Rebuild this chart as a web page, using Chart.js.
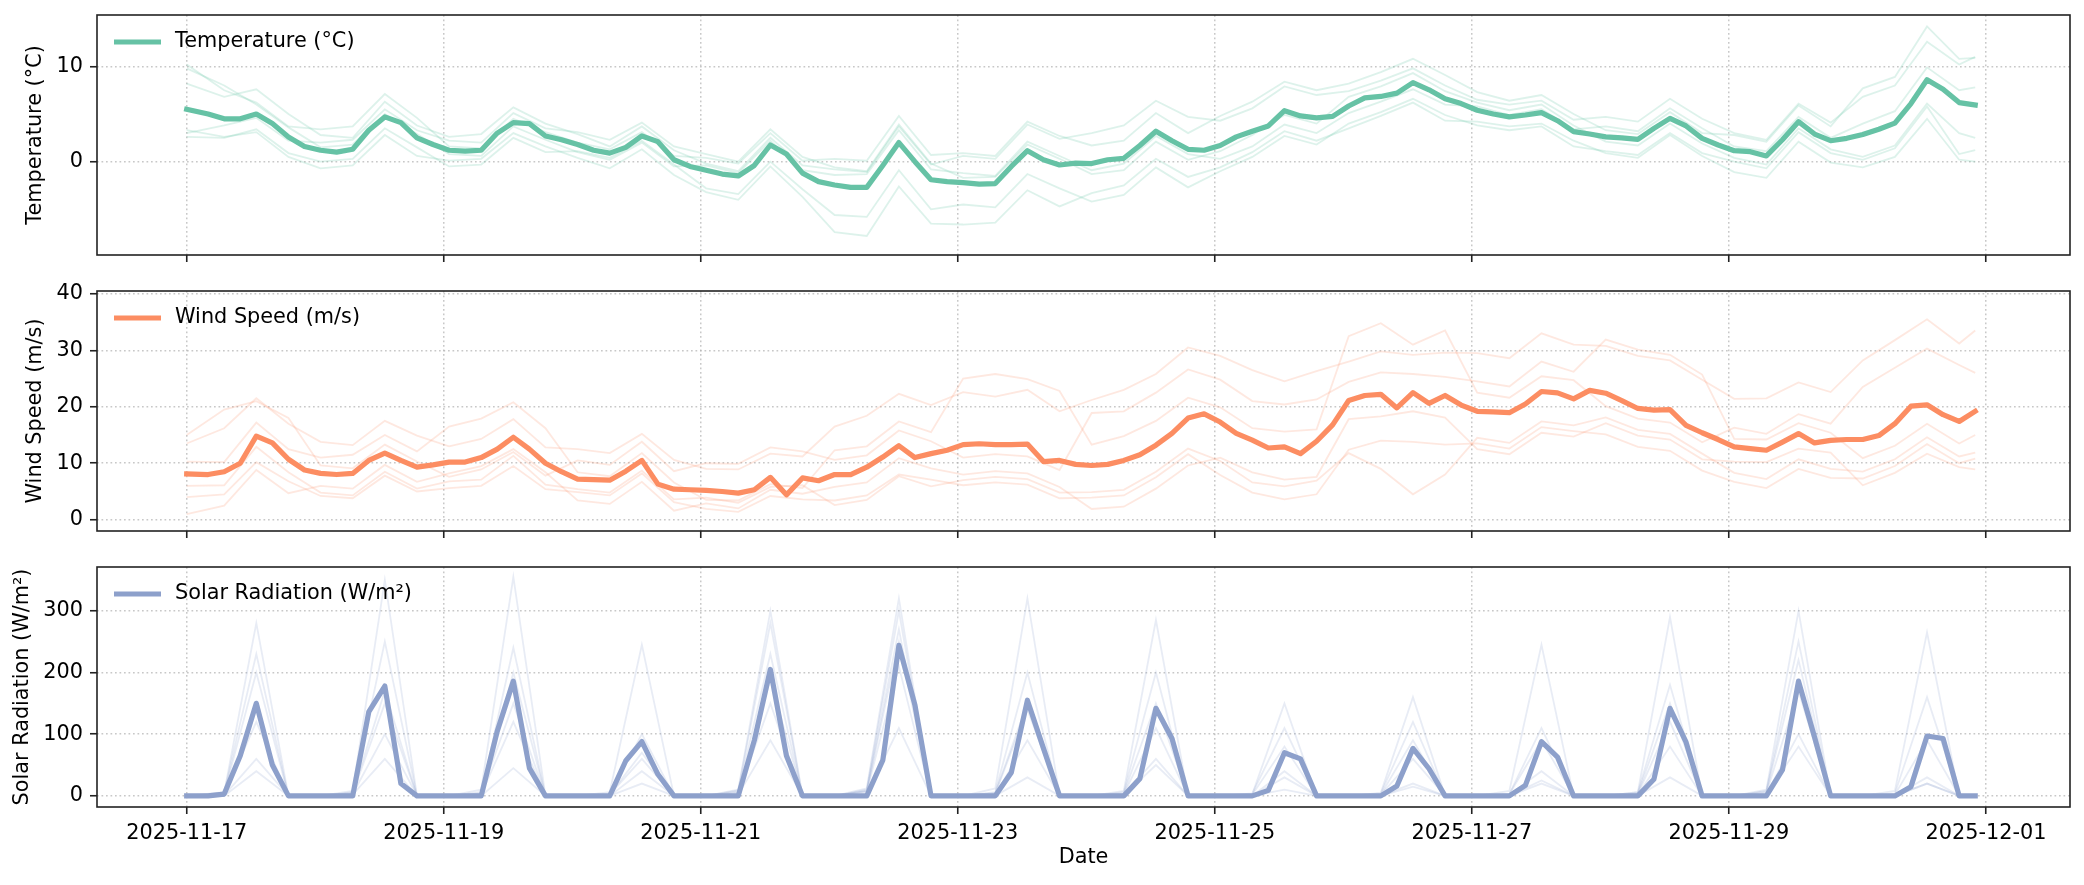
<!DOCTYPE html>
<html>
<head>
<meta charset="utf-8">
<script src="https://cdn.jsdelivr.net/npm/chart.js@4.4.1/dist/chart.umd.min.js"></script>
<style>
  html, body { margin: 0; padding: 0; background: #fff; }
  #wrap { position: relative; width: 2084px; height: 885px; }
  canvas { position: absolute; left: 0; }
</style>
</head>
<body>
<div id="wrap">
  <canvas id="tempChart" width="2084" height="270" style="top:0px"></canvas>
  <canvas id="windChart" width="2084" height="276" style="top:270px"></canvas>
  <canvas id="solarChart" width="2084" height="339" style="top:546px"></canvas>
</div>
<script>
// x values are hours since 2025-11-17 00:00
const tickHours = [0, 48, 96, 144, 192, 240, 288, 336];
const tickLabels = ['2025-11-17', '2025-11-19', '2025-11-21', '2025-11-23',
                    '2025-11-25', '2025-11-27', '2025-11-29', '2025-12-01'];

// ensemble mean, 3-hourly
const meanHours = [0];
for (let h = 4; h <= 334; h += 3) meanHours.push(h);

// individual members, read every 6 hours
const memberHours = [0];
for (let h = 7; h <= 331; h += 6) memberHours.push(h);
memberHours.push(334);

const tempMean = [
  5.5, 5.0, 4.5, 4.5, 5.0, 4.0, 2.6, 1.6,
  1.2, 1.0, 1.3, 3.3, 4.7, 4.1, 2.5, 1.8,
  1.2, 1.1, 1.2, 3.0, 4.1, 4.0, 2.7, 2.3,
  1.8, 1.2, 0.9, 1.5, 2.7, 2.1, 0.2, -0.5,
  -0.9, -1.3, -1.5, -0.4, 1.75, 0.8, -1.2, -2.1,
  -2.45, -2.7, -2.7, -0.4, 2.0, 0.0, -1.9, -2.1,
  -2.2, -2.35, -2.3, -0.5, 1.15, 0.2, -0.35, -0.15,
  -0.2, 0.2, 0.35, 1.7, 3.2, 2.2, 1.3, 1.2,
  1.7, 2.6, 3.2, 3.75, 5.35, 4.8, 4.6, 4.75,
  5.85, 6.7, 6.85, 7.2, 8.3, 7.55, 6.6, 6.1,
  5.4, 5.0, 4.7, 4.9, 5.15, 4.3, 3.15, 2.9,
  2.6, 2.5, 2.35, 3.5, 4.55, 3.75, 2.45, 1.75,
  1.15, 1.05, 0.6, 2.3, 4.2, 2.9, 2.2, 2.45,
  2.85, 3.4, 4.05, 6.1, 8.6, 7.6, 6.2, 5.95
];
const windMean = [
  8.1, 8.0, 8.5, 10.0, 14.8, 13.6, 10.7, 8.8,
  8.2, 8.0, 8.2, 10.5, 11.8, 10.5, 9.3, 9.7,
  10.2, 10.2, 11.0, 12.5, 14.6, 12.5, 10.0, 8.5,
  7.2, 7.1, 7.0, 8.6, 10.5, 6.3, 5.4, 5.3,
  5.2, 5.0, 4.7, 5.3, 7.5, 4.4, 7.4, 6.9,
  8.0, 8.0, 9.3, 11.1, 13.1, 11.0, 11.7, 12.3,
  13.3, 13.45, 13.3, 13.3, 13.4, 10.3, 10.5, 9.8,
  9.6, 9.8, 10.5, 11.5, 13.2, 15.3, 18.0, 18.75,
  17.3, 15.3, 14.1, 12.7, 12.9, 11.7, 13.9, 16.8,
  21.1, 22.0, 22.2, 19.8, 22.5, 20.6, 22.0, 20.3,
  19.2, 19.1, 18.95, 20.5, 22.7, 22.45, 21.4, 22.9,
  22.4, 21.1, 19.7, 19.4, 19.5, 16.7, 15.4, 14.2,
  12.9, 12.6, 12.3, 13.75, 15.25, 13.6, 14.05, 14.2,
  14.2, 14.9, 17.0, 20.1, 20.35, 18.6, 17.4, 19.2
];
const solarMean = [
  0, 0, 3, 65, 150, 50, 0, 0,
  0, 0, 0, 136, 178, 20, 0, 0,
  0, 0, 0, 105, 186, 45, 0, 0,
  0, 0, 0, 57, 88, 35, 0, 0,
  0, 0, 0, 90, 205, 65, 0, 0,
  0, 0, 0, 58, 244, 147, 0, 0,
  0, 0, 0, 38, 155, 77, 0, 0,
  0, 0, 0, 28, 142, 93, 0, 0,
  0, 0, 0, 9, 70, 60, 0, 0,
  0, 0, 0, 16, 77, 44, 0, 0,
  0, 0, 0, 17, 88, 63, 0, 0,
  0, 0, 0, 27, 142, 87, 0, 0,
  0, 0, 0, 42, 186, 95, 0, 0,
  0, 0, 0, 15, 97, 93, 0, 0
];

// temperature members (°C)
const tempMemberA = [8.2, 6.8, 7.6, 5.0, 2.8, 2.5, 6.3, 3.8, 2.6, 2.9, 5.7, 4.0, 2.9, 1.6, 3.7, 1.2,
  -0.2, -1.0, 2.5, -0.4, -0.8, -1.1, 3.7, -0.3, 0.6, 0.3, 3.9, 2.4, 3.0, 3.8, 6.4, 4.7,
  4.3, 5.6, 7.9, 7.0, 7.4, 8.5, 9.8, 8.0, 6.5, 6.0, 6.4, 4.4, 4.7, 4.2, 6.6, 4.5,
  3.0, 2.3, 6.1, 4.1, 6.8, 8.0, 12.6, 10.2, 11.0];
const tempMemberB = [3.3, 2.6, 3.1, 0.5, -0.7, -0.4, 2.8, 0.6, 0.1, 0.3, 3.0, 1.6, 0.4, -0.7, 1.3, -1.4,
  -3.2, -4.0, -0.5, -3.7, -7.4, -7.8, -2.6, -6.5, -6.6, -6.4, -3.0, -4.7, -3.3, -2.5, 0.3, -1.6,
  -0.6, 1.0, 3.2, 2.2, 3.5, 4.8, 6.2, 4.3, 4.2, 3.7, 4.0, 2.2, 0.9, 0.4, 2.8, 0.6,
  -1.1, -1.7, 2.1, -0.1, -0.6, 0.5, 4.5, 0.2, 0.0];
const tempMemberC = [9.8, 8.0, 6.0, 3.6, 1.5, 1.8, 5.0, 2.9, 0.8, 0.6, 3.7, 2.3, 1.0, 0.2, 2.0, -0.5,
  -0.4, -1.2, 2.2, -0.9, -1.4, -1.3, 3.3, -0.8, -1.2, -1.5, 2.1, 0.6, -0.9, -0.2, 2.7, 0.8,
  0.3, 1.6, 3.9, 3.0, 5.1, 6.3, 7.6, 6.0, 5.8, 4.9, 5.5, 3.4, 3.7, 3.2, 5.6, 3.5,
  1.6, 1.1, 4.7, 2.5, 4.0, 5.3, 9.9, 7.5, 7.8];
const tempMemberD = [3.0, 3.8, 4.6, 2.2, 2.0, 2.3, 5.5, 3.3, 2.2, 2.0, 5.1, 3.5, 3.1, 2.3, 4.1, 1.6,
  0.8, 0.0, 3.4, 0.5, -0.6, -1.0, 3.9, -0.2, -1.7, -1.6, 1.8, 0.3, -1.3, -0.9, 2.1, 0.2,
  1.1, 2.8, 4.9, 4.0, 6.8, 7.9, 9.3, 7.4, 6.2, 5.4, 6.0, 3.8, 2.1, 1.7, 4.0, 1.9,
  0.4, -0.3, 3.5, 1.3, 0.5, 1.7, 6.1, 3.0, 2.5];
const tempMemberE = [10.2, 7.5, 6.2, 3.7, 3.4, 3.7, 7.1, 4.6, 1.6, 1.4, 4.5, 3.1, 2.0, 1.3, 3.1, 0.6,
  0.4, -0.2, 3.0, 0.1, 0.3, 0.1, 4.8, 0.7, 0.9, 0.6, 4.2, 2.7, 1.7, 2.2, 5.1, 3.0,
  4.8, 6.3, 8.4, 7.5, 8.2, 9.4, 10.8, 9.1, 7.3, 6.4, 7.0, 5.0, 3.3, 2.9, 5.2, 3.0,
  2.8, 2.1, 5.9, 3.7, 7.7, 8.9, 14.2, 10.8, 10.9];
const tempMemberF = [2.6, 2.5, 3.4, 0.9, 0.0, 0.3, 3.5, 1.5, -0.5, -0.3, 2.5, 1.0, 1.1, 0.4, 2.2, -0.3,
  -2.8, -3.4, 0.0, -2.9, -5.6, -5.8, -0.9, -5.0, -4.5, -4.8, -1.3, -2.8, -4.2, -3.5, -0.6, -2.7,
  -1.0, 0.5, 2.7, 1.8, 4.0, 5.2, 6.6, 4.9, 3.8, 3.3, 3.7, 1.6, 1.1, 0.7, 3.0, 0.9,
  0.0, -0.7, 3.1, 0.9, 0.2, 1.4, 5.8, 0.8, 1.2];

// wind speed members (m/s)
const windMemberA = [13.5, 16.2, 21.5, 17.0, 13.8, 13.2, 17.5, 14.9, 13.0, 14.3, 17.8, 12.8, 12.5, 11.8, 15.2, 10.6,
  9.0, 8.9, 11.7, 11.2, 16.5, 18.4, 22.3, 20.3, 22.6, 21.8, 23.0, 19.2, 21.2, 23.0, 25.8, 30.5,
  29.0, 26.5, 24.5, 26.3, 28.0, 29.8, 29.2, 29.6, 29.5, 28.6, 33.0, 31.0, 30.8, 29.0, 28.2, 24.8,
  21.4, 21.5, 24.3, 22.6, 28.2, 31.8, 35.5, 31.2, 33.5];
const windMemberB = [4.0, 4.5, 10.2, 6.8, 4.2, 3.8, 7.8, 5.0, 5.6, 6.0, 9.5, 5.4, 4.9, 4.3, 8.2, 3.1,
  1.9, 1.4, 4.2, 3.6, 3.4, 4.3, 8.0, 7.1, 6.1, 6.6, 6.2, 3.8, 3.9, 4.3, 7.5, 11.6,
  7.9, 4.8, 3.6, 4.5, 12.4, 14.0, 13.8, 13.3, 13.5, 12.6, 16.4, 15.7, 15.1, 12.9, 12.2, 8.7,
  6.7, 5.6, 9.0, 7.4, 7.3, 9.5, 13.4, 10.0, 10.8];
const windMemberC = [10.3, 10.2, 17.2, 12.5, 11.0, 11.5, 15.0, 12.1, 16.5, 17.9, 20.8, 16.2, 8.4, 7.7, 11.8, 6.6,
  3.5, 3.4, 6.3, 5.6, 12.3, 13.0, 17.4, 15.5, 25.0, 25.8, 24.9, 22.8, 13.3, 14.8, 17.5, 21.6,
  19.9, 16.2, 15.6, 16.0, 32.5, 34.8, 31.0, 33.5, 22.5, 21.6, 25.4, 24.7, 20.1, 17.9, 17.2, 13.7,
  16.3, 15.2, 18.7, 17.0, 23.5, 26.9, 30.3, 27.4, 26.0];
const windMemberD = [1.0, 2.5, 8.8, 4.7, 6.0, 5.5, 9.7, 6.7, 8.2, 9.5, 12.5, 8.4, 3.4, 2.8, 6.7, 1.6,
  2.9, 2.0, 5.3, 4.6, 5.8, 6.6, 10.9, 9.1, 8.0, 8.6, 8.2, 5.8, 1.9, 2.3, 5.5, 9.6,
  11.0, 8.4, 7.1, 7.6, 17.8, 18.3, 19.2, 18.1, 12.5, 11.6, 15.4, 14.7, 17.1, 14.9, 14.2, 10.7,
  10.3, 10.2, 12.6, 11.9, 6.1, 8.3, 11.7, 9.3, 8.9];
const windMemberE = [15.0, 19.5, 21.0, 18.0, 9.6, 9.1, 13.3, 10.3, 7.6, 8.9, 12.0, 7.8, 10.5, 9.7, 13.8, 8.6,
  10.0, 9.9, 12.8, 12.1, 10.6, 11.4, 15.8, 13.9, 11.0, 11.6, 11.2, 8.8, 18.9, 19.2, 22.5, 26.6,
  24.8, 21.0, 20.4, 21.3, 24.4, 26.1, 25.8, 25.3, 24.5, 23.6, 28.0, 26.2, 31.9, 30.1, 29.2, 25.7,
  14.3, 14.2, 17.1, 15.4, 10.9, 13.1, 17.0, 13.5, 15.0];
const windMemberF = [6.0, 6.1, 12.9, 8.4, 4.8, 4.3, 8.5, 5.5, 6.8, 7.1, 11.3, 6.2, 5.4, 4.8, 8.7, 3.6,
  3.9, 3.0, 5.8, 6.1, 2.6, 3.5, 7.7, 5.9, 7.0, 7.6, 7.2, 4.8, 4.9, 5.3, 8.5, 12.6,
  10.4, 6.6, 5.9, 6.9, 11.8, 9.0, 4.5, 8.0, 14.5, 13.6, 17.4, 16.7, 18.1, 15.9, 15.2, 11.7,
  8.3, 7.2, 10.7, 9.0, 8.5, 10.7, 14.6, 11.2, 11.9];

// solar radiation members (W/m²)
const solarMemberA = [0, 5, 280, 0, 0, 8, 350, 0, 0, 4, 240, 0, 0, 0, 20, 0, 0, 10, 300, 0, 0, 12, 320, 0,
  0, 0, 30, 0, 0, 8, 285, 0, 0, 3, 150, 0, 0, 0, 20, 0, 0, 2, 40, 0, 0, 6, 290, 0,
  0, 10, 300, 0, 0, 4, 160, 0, 0];
const solarMemberB = [0, 0, 40, 0, 0, 2, 60, 0, 0, 10, 355, 0, 0, 6, 245, 0, 0, 4, 150, 0, 0, 8, 270, 0,
  0, 12, 320, 0, 0, 2, 60, 0, 0, 0, 10, 0, 0, 5, 160, 0, 0, 3, 90, 0, 0, 6, 180, 0,
  0, 2, 80, 0, 0, 8, 265, 0, 0];
const solarMemberC = [0, 4, 200, 0, 0, 6, 250, 0, 0, 0, 45, 0, 0, 2, 60, 0, 0, 9, 280, 0, 0, 3, 110, 0,
  0, 5, 150, 0, 0, 6, 200, 0, 0, 2, 80, 0, 0, 2, 60, 0, 0, 8, 245, 0, 0, 0, 30, 0,
  0, 7, 220, 0, 0, 0, 20, 0, 0];
const solarMemberD = [0, 2, 120, 0, 0, 4, 150, 0, 0, 6, 200, 0, 0, 3, 100, 0, 0, 2, 90, 0, 0, 10, 300, 0,
  0, 6, 200, 0, 0, 3, 110, 0, 0, 4, 110, 0, 0, 4, 120, 0, 0, 0, 20, 0, 0, 3, 120, 0,
  0, 5, 170, 0, 0, 2, 90, 0, 0];
const solarMemberE = [0, 6, 230, 0, 0, 3, 100, 0, 0, 4, 150, 0, 0, 0, 40, 0, 0, 7, 230, 0, 0, 8, 250, 0,
  0, 2, 90, 0, 0, 4, 150, 0, 0, 0, 40, 0, 0, 2, 90, 0, 0, 3, 110, 0, 0, 2, 80, 0,
  0, 8, 250, 0, 0, 0, 30, 0, 0];
const solarMemberF = [0, 1, 60, 0, 0, 5, 170, 0, 0, 3, 120, 0, 0, 2, 70, 0, 0, 6, 190, 0, 0, 7, 210, 0,
  0, 4, 140, 0, 0, 1, 50, 0, 0, 0, 30, 0, 0, 0, 15, 0, 0, 0, 25, 0, 0, 4, 150, 0,
  0, 3, 100, 0, 0, 0, 20, 0, 0];

const tempTicks = [0, 10];
const windTicks = [0, 10, 20, 30, 40];
const solarTicks = [0, 100, 200, 300];

Chart.defaults.font.family = '"DejaVu Sans", sans-serif';
Chart.defaults.font.size = 20.8;
Chart.defaults.color = '#000';

const gridColor = 'rgba(176, 176, 176, 0.7)';

// frame around the plot area plus the single-entry legend in the top-left corner
const panelDecor = {
  id: 'panelDecor',
  afterDatasetsDraw(chart, args, opts) {
    const { ctx, chartArea: a } = chart;
    ctx.save();
    ctx.strokeStyle = '#222';
    ctx.lineWidth = 1.6;
    ctx.strokeRect(a.left, a.top, a.right - a.left, a.bottom - a.top);

    const y = a.top + 27;
    ctx.strokeStyle = opts.color;
    ctx.lineWidth = 5.2;
    ctx.lineCap = 'butt';
    ctx.beginPath();
    ctx.moveTo(a.left + 17, y);
    ctx.lineTo(a.left + 64, y);
    ctx.stroke();
    ctx.fillStyle = '#000';
    ctx.font = '20.8px "DejaVu Sans"';
    ctx.textBaseline = 'middle';
    ctx.fillText(opts.label, a.left + 78, y);
    ctx.restore();
  }
};

function toPoints(hours, values) {
  return values.map((v, i) => ({ x: hours[i], y: v }));
}

function buildPanel(id, cfg) {
  const datasets = [{
    label: cfg.label,
    data: toPoints(meanHours, cfg.mean),
    borderColor: cfg.color,
    borderWidth: 5.2,
    pointRadius: 0,
    borderJoinStyle: 'round',
    borderCapStyle: 'square',
    order: 0
  }];
  cfg.members.forEach((m, k) => datasets.push({
    label: 'member ' + (k + 1),
    data: toPoints(memberHours, m),
    borderColor: cfg.faint,
    borderWidth: 1.8,
    pointRadius: 0,
    order: 1
  }));

  return new Chart(document.getElementById(id), {
    type: 'line',
    data: { datasets },
    options: {
      responsive: false,
      animation: false,
      events: [],
      layout: { padding: { top: cfg.padTop, right: 14, left: 0, bottom: 0 } },
      plugins: {
        legend: { display: false },
        tooltip: { enabled: false },
        panelDecor: { color: cfg.color, label: cfg.label }
      },
      scales: {
        x: {
          type: 'linear',
          min: -16.75,
          max: 351.7,
          afterBuildTicks: s => { s.ticks = tickHours.map(v => ({ value: v })); },
          afterFit: s => { s.height = cfg.xHeight; s.paddingLeft = 0; s.paddingRight = 0; },
          ticks: {
            display: cfg.showDates,
            callback: (v, i) => tickLabels[i],
            autoSkip: false,
            maxRotation: 0,
            padding: 7
          },
          grid: { color: gridColor, lineWidth: 1.5, tickLength: 7, tickColor: '#222', tickWidth: 1.6, tickBorderDash: [] },
          border: { display: false, dash: [1.7, 2.8] },
          title: { display: cfg.showDates, text: 'Date', padding: { top: 0, bottom: 14.5 } }
        },
        y: {
          min: cfg.yMin,
          max: cfg.yMax,
          afterBuildTicks: s => { s.ticks = cfg.yTicks.map(v => ({ value: v })); },
          afterFit: s => { s.width = 97; s.paddingTop = 0; s.paddingBottom = 0; },
          ticks: { padding: 7 },
          grid: { color: gridColor, lineWidth: 1.5, tickLength: 7, tickColor: '#222', tickWidth: 1.6, tickBorderDash: [] },
          border: { display: false, dash: [1.7, 2.8] },
          title: { display: true, text: cfg.label, padding: { top: cfg.titlePad, bottom: 0 } }
        }
      }
    },
    plugins: [panelDecor]
  });
}

buildPanel('tempChart', {
  label: 'Temperature (°C)',
  mean: tempMean,
  members: [tempMemberA, tempMemberB, tempMemberC, tempMemberD, tempMemberE, tempMemberF],
  color: '#66c2a5',
  faint: 'rgba(102, 194, 165, 0.22)',
  yMin: -9.8, yMax: 15.4, yTicks: tempTicks,
  padTop: 15, xHeight: 15, showDates: false, titlePad: 23.5
});

buildPanel('windChart', {
  label: 'Wind Speed (m/s)',
  mean: windMean,
  members: [windMemberA, windMemberB, windMemberC, windMemberD, windMemberE, windMemberF],
  color: '#fc8d62',
  faint: 'rgba(252, 141, 98, 0.2)',
  yMin: -2.0, yMax: 40.5, yTicks: windTicks,
  padTop: 21, xHeight: 15, showDates: false, titlePad: 23.5
});

buildPanel('solarChart', {
  label: 'Solar Radiation (W/m²)',
  mean: solarMean,
  members: [solarMemberA, solarMemberB, solarMemberC, solarMemberD, solarMemberE, solarMemberF],
  color: '#8da0cb',
  faint: 'rgba(141, 160, 203, 0.2)',
  yMin: -18, yMax: 371, yTicks: solarTicks,
  padTop: 21, xHeight: 78, showDates: true, titlePad: 10
});
</script>
</body>
</html>
